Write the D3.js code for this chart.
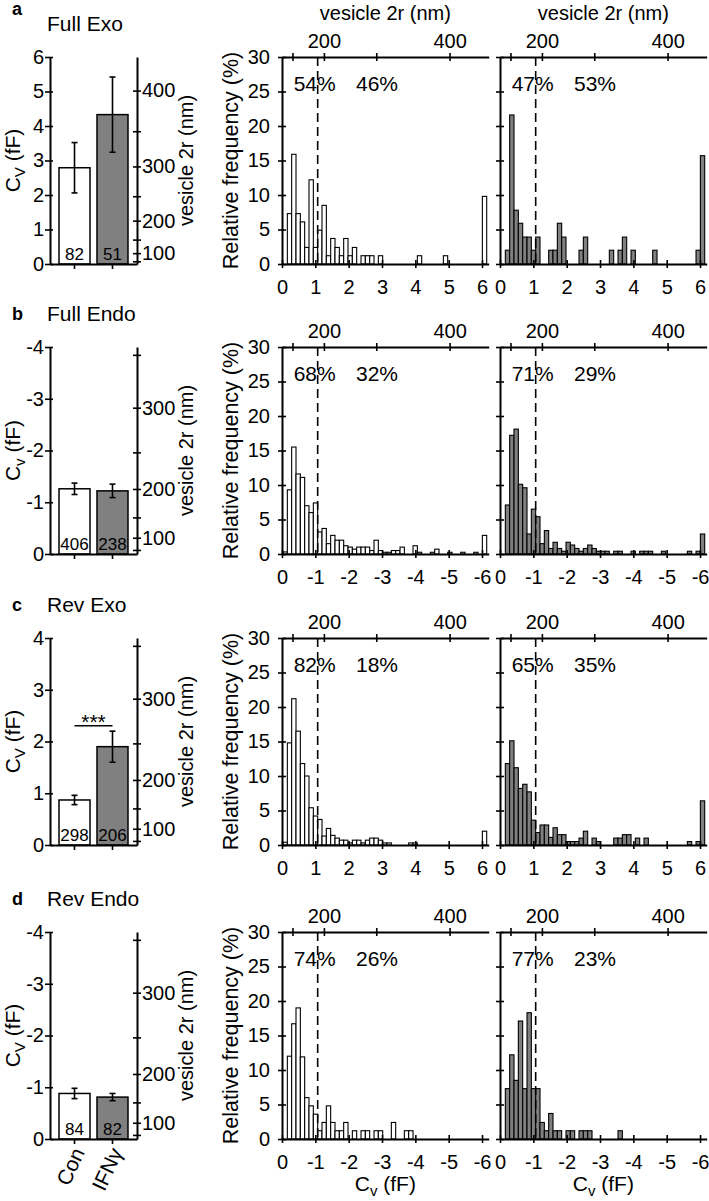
<!DOCTYPE html>
<html><head><meta charset="utf-8">
<script src="https://cdn.jsdelivr.net/npm/d3@7"></script>
<style>
body{margin:0;background:#fff}
svg{display:block}
text{font-family:"Liberation Sans",Arial,Helvetica,sans-serif;fill:#000}
</style>
</head><body>
<svg id="chart" width="709" height="1201"></svg>
<script>
// ---------------- DATA ----------------
const groups = ["Con", "IFNγ"];
const rowLetters = ["a", "b", "c", "d"];
const rowTitles = ["Full Exo", "Full Endo", "Rev Exo", "Rev Endo"];
const cvAxisMax = [6, 4, 4, 4];
const barTickLabelsExo6 = ["0", "1", "2", "3", "4", "5", "6"];
const barTickLabelsExo4 = ["0", "1", "2", "3", "4"];
const barTickLabelsEndo4 = ["0", "-1", "-2", "-3", "-4"];
const histTickLabelsExo = ["0", "1", "2", "3", "4", "5", "6"];
const histTickLabelsEndo = ["0", "-1", "-2", "-3", "-4", "-5", "-6"];
const freqTicks = [0, 5, 10, 15, 20, 25, 30];
const diamTicksBar = [50, 100, 150, 200, 250, 300, 350, 400];
const diamTicksHist = [100, 200, 300, 400];
const diamLabelled = [100, 200, 300, 400];
const diamLabelledHist = [200, 400];

// mean |Cv| (fF), s.e.m., number of events
const meanFullExo = [2.79, 4.33], errFullExo = [0.73, 1.09], nFullExo = [82, 51];
const meanFullEndo = [1.26, 1.22], errFullEndo = [0.11, 0.13], nFullEndo = [406, 238];
const meanRevExo = [0.87, 1.90], errRevExo = [0.09, 0.30], nRevExo = [298, 206];
const meanRevEndo = [0.88, 0.81], errRevEndo = [0.10, 0.07], nRevEndo = [84, 82];
const sigRevExo = "***";

// percentage of events below / above the dashed threshold
const pctFullExo = [[54, 46], [47, 53]];
const pctFullEndo = [[68, 32], [71, 29]];
const pctRevExo = [[82, 18], [65, 35]];
const pctRevEndo = [[74, 26], [77, 23]];
const thresholdCv = 1.07;

// histogram: relative frequency (%) per bin; bin width 0.13 fF starting at 0.03 fF, last bin = >6 fF
const binStart = 0.03, binWidth = 0.13;
const histFullExoCon = [0,7.3,15.9,7.3,6.1,2.4,12.2,2.4,4.9,8.5, 1.2,3.7,2.4,1.2,3.7,1.2,2.4,0,1.2,1.2, 1.2,0,1.2,0,0,0,0,0,0,0, 0,1.2,0,0,0,0,0,1.2,0,0, 0,0,0,0,0,0,9.8];
const histFullExoIFN = [0,2.0,21.6,7.8,5.9,3.9,3.9,2.0,3.9,0, 0,2.0,2.0,5.9,3.9,0,0,0,2.0,3.9, 0,0,0,0,0,2.0,0,2.0,3.9,0, 2.0,0,0,0,0,2.0,0,0,0,0, 0,0,0,0,0,2.0,15.7];
const histFullEndoCon = [0.3,9.3,15.5,11.6,11.1,7.0,6.0,7.4,3.2,3.7, 1.5,2.7,2.0,2.0,1.2,1.0,0.7,1.0,1.0,1.0, 0.5,2.0,0.5,0.25,0.25,0.5,0.5,1.0,0,0, 1.2,0.25,0,0,0.25,0.7,0,0,0.25,0, 0,0.25,0,0,0.25,0,2.7];
const histFullEndoIFN = [0,7.1,17.2,18.1,10.1,9.6,2.9,6.5,5.4,1.5, 3.4,0.8,1.7,0.8,0.4,1.7,1.3,0.8,0.4,0.8, 1.3,0.8,0.4,0.4,0.4,0,0.4,0.4,0,0, 0.4,0,0.4,0.4,0.4,0,0,0.4,0,0, 0,0,0,0.4,0,0.4,2.9];
const histRevExoCon = [0.4,14.8,21.2,16.5,11.8,10.0,5.4,4.2,3.7,1.3, 2.4,1.4,1.0,0.7,0.7,0.3,0.7,0.7,0.3,0.7, 1.0,1.0,0.7,0.3,0.3,0,0,0,0,0.3, 0.3,0,0,0,0,0,0,0,0,0, 0,0,0,0,0,0,2.0];
const histRevExoIFN = [0,11.8,15.1,11.2,8.2,8.8,7.7,3.6,1.8,2.9, 2.9,1.1,2.5,1.5,1.5,0.5,0.5,0.5,1.0,2.0, 0,1.0,0.5,0,0,0,1.0,1.0,1.5,1.5, 0,1.0,0,1.0,0,0,0,0,0,0, 0,0,0,0.5,0,0.5,6.4];
const histRevEndoCon = [0,12.0,16.7,19.0,11.9,6.0,4.8,3.6,1.2,2.4, 4.8,2.4,1.2,1.2,2.4,0,1.2,0,1.2,1.2, 0,1.2,1.2,0,0,2.4,0,0,1.2,1.2, 0,0,0,0,0,0,0,0,0,0, 0,0,0,0,0,0,0];
const histRevEndoIFN = [0,7.3,12.2,8.5,17.1,7.3,18.3,7.3,7.3,2.4, 1.2,3.7,1.2,1.2,0,1.2,1.2,0,1.2,1.2, 1.2,0,0,0,0,0,0,1.2,0,0, 0,0,0,0,0,0,0,0,0,0, 0,0,0,0,0,0,0];

// ---------------- TABLE built from the arrays ----------------
const rows = [
  {mean: meanFullExo, err: errFullExo, n: nFullExo, yLabels: barTickLabelsExo6, hLabels: histTickLabelsExo, pct: pctFullExo, hist: [histFullExoCon, histFullExoIFN], sub: "V"},
  {mean: meanFullEndo, err: errFullEndo, n: nFullEndo, yLabels: barTickLabelsEndo4, hLabels: histTickLabelsEndo, pct: pctFullEndo, hist: [histFullEndoCon, histFullEndoIFN], sub: "v"},
  {mean: meanRevExo, err: errRevExo, n: nRevExo, yLabels: barTickLabelsExo4, hLabels: histTickLabelsExo, pct: pctRevExo, hist: [histRevExoCon, histRevExoIFN], sub: "V", sig: sigRevExo},
  {mean: meanRevEndo, err: errRevEndo, n: nRevEndo, yLabels: barTickLabelsEndo4, hLabels: histTickLabelsEndo, pct: pctRevEndo, hist: [histRevEndoCon, histRevEndoIFN], sub: "V"}
];

// ---------------- LAYOUT ----------------
const cvOfDiam = d => Math.PI * d * d * 1e-5;   // fF, d in nm, 1 µF/cm²
const svg = d3.select("#chart");
const rowTop = [57, 347, 638, 932];
const rowH = 207;
const histX = [282, 500];
const histW = 206.7;
const fills = ["#ffffff", "#808080"];
const FONT = '"Liberation Sans",Arial,Helvetica,sans-serif';
const TICK_FS = 20;

function styleAxis(g, fs) {
  g.attr("font-size", fs).attr("font-family", FONT);
  g.select(".domain").attr("stroke", "#000").attr("stroke-width", 2);
  g.selectAll(".tick line").attr("stroke", "#000").attr("stroke-width", 1.6);
  g.selectAll(".tick text").attr("fill", "#000");
}

function drawBarPanel(r, i) {
  const top = rowTop[i], bot = top + rowH, max = cvAxisMax[i];
  const g = svg.append("g");
  const x = d3.scaleBand().domain(groups).range([50, 137]).paddingInner(0.184).paddingOuter(0.237);
  const y = d3.scaleLinear().domain([0, max]).range([bot, top]);
  const cx = j => x(groups[j]) + x.bandwidth() / 2;

  g.selectAll("rect.bar").data(r.mean).join("rect")
    .attr("x", (d, j) => x(groups[j])).attr("y", d => y(d))
    .attr("width", x.bandwidth()).attr("height", d => bot - y(d))
    .attr("fill", (d, j) => fills[j]).attr("stroke", "#000").attr("stroke-width", 1.5);

  // error bars
  r.mean.forEach((m, j) => {
    const e = r.err[j];
    g.append("line").attr("x1", cx(j)).attr("x2", cx(j)).attr("y1", y(m - e)).attr("y2", y(m + e))
      .attr("stroke", "#000").attr("stroke-width", 1.6);
    [m - e, m + e].forEach(v => g.append("line").attr("x1", cx(j) - 3).attr("x2", cx(j) + 3)
      .attr("y1", y(v)).attr("y2", y(v)).attr("stroke", "#000").attr("stroke-width", 1.6));
    g.append("text").attr("x", cx(j)).attr("y", bot - 4).attr("text-anchor", "middle")
      .attr("font-size", 17).text(r.n[j]);
  });

  if (r.sig) {
    const lineY = y(r.mean[1]) - 21;
    g.append("line").attr("x1", cx(0)).attr("x2", cx(1)).attr("y1", lineY).attr("y2", lineY)
      .attr("stroke", "#000").attr("stroke-width", 1.6);
    g.append("text").attr("x", (cx(0) + cx(1)) / 2).attr("y", lineY + 3).attr("text-anchor", "middle")
      .attr("font-size", 21).text(r.sig);
  }

  // left axis
  const al = g.append("g").attr("transform", "translate(50,0)")
    .call(d3.axisLeft(y).tickValues(d3.range(0, max + 1)).tickFormat((d) => r.yLabels[d])
      .tickSizeInner(5).tickSizeOuter(0).tickPadding(1));
  styleAxis(al, TICK_FS);
  al.selectAll(".tick line").attr("x1", 3).attr("x2", -5);

  // right axis (vesicle diameter)
  const dt = diamTicksBar.filter(d => cvOfDiam(d) <= max);
  const ar = g.append("g").attr("transform", "translate(137,0)")
    .call(d3.axisRight(y).tickValues(dt.map(cvOfDiam))
      .tickFormat((v, j) => diamLabelled.includes(dt[j]) ? String(dt[j]) : "")
      .tickSizeInner(4).tickSizeOuter(0).tickPadding(1));
  styleAxis(ar, TICK_FS);
  ar.selectAll(".tick line").attr("x1", -4).attr("x2", 4);

  // bottom axis
  const ab = g.append("g").attr("transform", `translate(0,${bot})`)
    .call(d3.axisBottom(x).tickSizeInner(5).tickSizeOuter(0).tickFormat(i === 3 ? (d => d) : () => ""));
  styleAxis(ab, 21);
  if (i === 3) {
    ab.selectAll(".tick text").attr("y", 0).attr("dy", "0.35em").attr("text-anchor", "end")
      .attr("transform", "translate(4,10) rotate(-65)");
  }

  // axis titles
  const mid = (top + bot) / 2;
  const t1 = g.append("text").attr("transform", `translate(20,${mid}) rotate(-90)`)
    .attr("text-anchor", "middle").attr("font-size", 21);
  t1.append("tspan").text("C");
  t1.append("tspan").attr("font-size", 15).attr("dy", 5).text(r.sub);
  t1.append("tspan").attr("dy", -5).text(" (fF)");
  g.append("text").attr("transform", `translate(193,${mid}) rotate(-90)`)
    .attr("text-anchor", "middle").attr("font-size", 20).text("vesicle 2r (nm)");

  // panel letter and title
  const letterY = i === 0 ? top - 42 : top - 27;
  g.append("text").attr("x", 12).attr("y", letterY).attr("font-size", 18).attr("font-weight", "bold").text(rowLetters[i]);
  g.append("text").attr("x", 47).attr("y", top - 26).attr("font-size", 21).text(rowTitles[i]);
}

function drawHist(r, i, col) {
  const top = rowTop[i], bot = top + rowH, x0 = histX[col];
  const g = svg.append("g");
  const x = d3.scaleLinear().domain([0, 6.2]).range([x0, x0 + histW]);
  const y = d3.scaleLinear().domain([0, 30]).range([bot, top]);
  const bins = r.hist[col].map((v, k) => ({k, v})).filter(d => d.v > 0);

  g.selectAll("rect").data(bins).join("rect")
    .attr("x", d => x(binStart + d.k * binWidth))
    .attr("width", x(binWidth) - x(0))
    .attr("y", d => y(d.v)).attr("height", d => bot - y(d.v))
    .attr("fill", fills[col]).attr("stroke", "#000").attr("stroke-width", 1.1);

  // dashed threshold
  g.append("line").attr("x1", x(thresholdCv)).attr("x2", x(thresholdCv)).attr("y1", top).attr("y2", bot)
    .attr("stroke", "#000").attr("stroke-width", 1.6).attr("stroke-dasharray", "9,5");

  // percentages
  g.append("text").attr("x", x(0.98)).attr("y", top + 34).attr("text-anchor", "middle").attr("font-size", 21).text(r.pct[col][0] + "%");
  g.append("text").attr("x", x(2.85)).attr("y", top + 34).attr("text-anchor", "middle").attr("font-size", 21).text(r.pct[col][1] + "%");

  // left axis
  const al = g.append("g").attr("transform", `translate(${x0},0)`)
    .call(d3.axisLeft(y).tickValues(freqTicks).tickFormat(col === 0 ? (d => d) : () => "")
      .tickSizeInner(4).tickSizeOuter(0).tickPadding(8));
  styleAxis(al, TICK_FS);
  al.selectAll(".tick line").attr("x1", 4).attr("x2", -4);

  // bottom axis
  const ab = g.append("g").attr("transform", `translate(0,${bot})`)
    .call(d3.axisBottom(x).tickValues(d3.range(0, 7)).tickFormat(d => r.hLabels[d])
      .tickSizeInner(4).tickSizeOuter(0).tickPadding(12));
  styleAxis(ab, TICK_FS);
  ab.selectAll(".tick line").attr("y1", -4).attr("y2", 4);

  // top axis (vesicle diameter)
  const at = g.append("g").attr("transform", `translate(0,${top})`)
    .call(d3.axisTop(x).tickValues(diamTicksHist.map(cvOfDiam))
      .tickFormat((v, j) => diamLabelledHist.includes(diamTicksHist[j]) ? String(diamTicksHist[j]) : "")
      .tickSizeInner(4).tickSizeOuter(0).tickPadding(5));
  styleAxis(at, TICK_FS);
  at.selectAll(".tick line").attr("y1", -4).attr("y2", 4);

  const mid = (top + bot) / 2;
  if (col === 0) {
    g.append("text").attr("transform", `translate(238,${mid}) rotate(-90)`)
      .attr("text-anchor", "middle").attr("font-size", 21.5).text("Relative frequency (%)");
  }
  if (i === 0) {
    g.append("text").attr("x", x0 + histW / 2).attr("y", 20).attr("text-anchor", "middle")
      .attr("font-size", 20).text("vesicle 2r (nm)");
  }
  if (i === 3) {
    const t = g.append("text").attr("x", x0 + histW / 2).attr("y", bot + 52).attr("text-anchor", "middle").attr("font-size", 21);
    t.append("tspan").text("C");
    t.append("tspan").attr("font-size", 15).attr("dy", 5).text("v");
    t.append("tspan").attr("dy", -5).text(" (fF)");
  }
}

rows.forEach((r, i) => {
  drawBarPanel(r, i);
  drawHist(r, i, 0);
  drawHist(r, i, 1);
});
</script>
</body></html>
